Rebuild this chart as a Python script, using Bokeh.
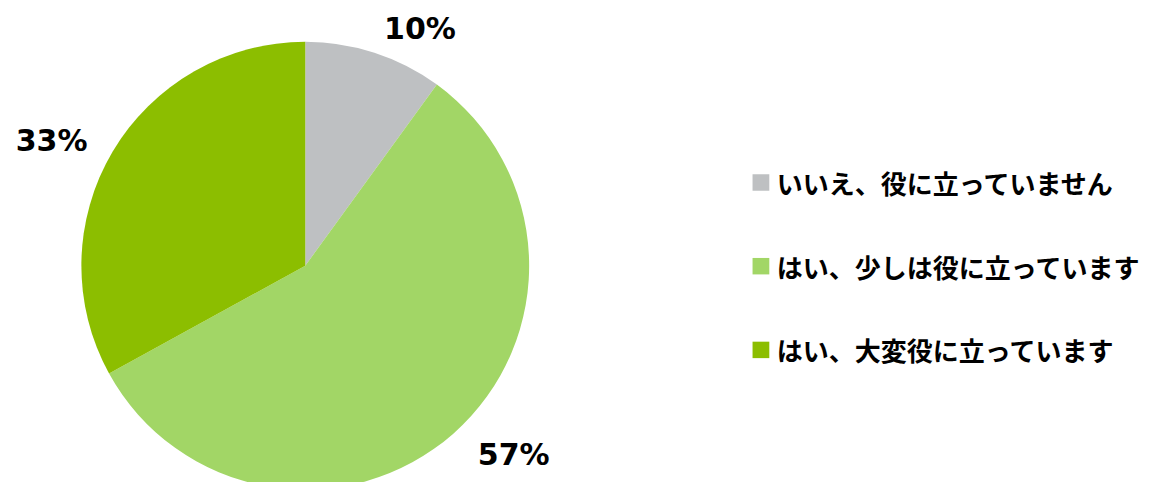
import math
from bokeh.plotting import figure
from bokeh.models import ColumnDataSource, Range1d
from bokeh.core.properties import value
from bokeh.embed import file_html
from bokeh.resources import INLINE

# ---- data ----
categories = ["いいえ、役に立っていません", "はい、少しは役に立っています", "はい、大変役に立っています"]
values = [10, 57, 33]
colors = ["#BEC0C2", "#A2D666", "#8CBE00"]

# ---- layout (reference pixel frame: data y = H - screen y) ----
W, H = 1167, 498
cx, cy, R = 309, H - 274, 227

p = figure(width=1151, height=482, output_backend="svg", toolbar_location=None,
           x_range=Range1d(0, W), y_range=Range1d(0, H),
           x_axis_location=None, y_axis_location=None, min_border=0,
           outline_line_color=None, border_fill_color="white")
p.xgrid.visible = False
p.ygrid.visible = False

total = sum(values)
starts, ends, mids = [], [], []
a = math.pi / 2
for v in values:
    span = 2 * math.pi * v / total
    starts.append(a)
    ends.append(a - span)
    mids.append(a - span / 2)
    a -= span

src = ColumnDataSource(dict(start=starts, end=ends, color=colors))
p.wedge(x=cx, y=cy, radius=R, start_angle="start", end_angle="end", direction="clock",
        fill_color="color", line_color=None, source=src)

# percentage labels: outside the slice edge along the mid angle, with nudges
label_r = 250
nudges = [(39, 7), (46, -8), (-42, 2)]
lx, ly, lt = [], [], []
for m, v, (dx, dy) in zip(mids, values, nudges):
    lx.append(cx + label_r * math.cos(m) + dx)
    ly.append(cy + label_r * math.sin(m) + dy)
    lt.append(f"{v}%")
p.text(x=lx, y=ly, text=lt, text_align="center", text_baseline="middle",
       text_font=value("DejaVu Sans"), text_font_style="bold", text_font_size="30px",
       text_color="black")

# legend
leg_x, leg_y0, leg_dy = 771, H - 188, 86.5
ys = [leg_y0 - i * leg_dy for i in range(len(categories))]
p.rect(x=[leg_x] * len(categories), y=ys, width=17, height=17, fill_color=colors, line_color=None)
p.text(x=[leg_x + 16] * len(categories), y=ys, text=categories, text_align="left",
       text_baseline="middle", text_font=value("Noto Sans CJK JP"), text_font_style="bold",
       text_font_size="26px", text_color="black")

open("out.html", "w").write(file_html(p, INLINE))
